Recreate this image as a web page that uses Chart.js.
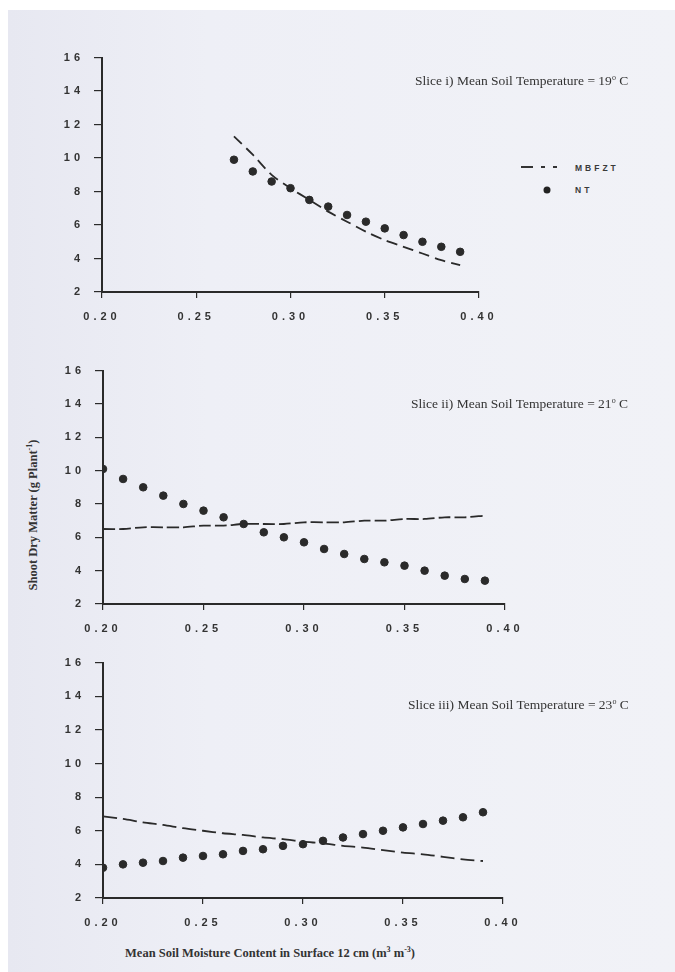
<!DOCTYPE html>
<html>
<head>
<meta charset="utf-8">
<script src="https://cdn.jsdelivr.net/npm/chart.js@4"></script>
<style>
  html, body { margin: 0; padding: 0; background: #fff; }
  #page {
    position: absolute; left: 8px; top: 10px; width: 667px; height: 962px;
    background: linear-gradient(90deg, #e7e8f1 0%, #eeeff6 30%, #f1f2f7 100%);
  }
  canvas { position: absolute; }
  .title {
    position: absolute; font-family: "Liberation Serif", serif; font-size: 13.5px;
    color: #333; white-space: nowrap; transform: translateY(-50%);
  }
  .axlabel {
    position: absolute; font-family: "Liberation Serif", serif; font-weight: bold;
    font-size: 12.5px; color: #333; white-space: nowrap;
    transform: translate(-50%, -50%);
  }
  .leg {
    position: absolute; font-family: "Liberation Sans", sans-serif; font-weight: bold;
    font-size: 8.5px; letter-spacing: 3px; color: #3a3a3a; transform: translateY(-50%);
    -webkit-font-smoothing: antialiased;
  }
</style>
</head>
<body>
<div id="page"></div>
<canvas id="c1"></canvas>
<canvas id="c2"></canvas>
<canvas id="c3"></canvas>

<div class="title" style="left:415px;top:81px">Slice i) Mean Soil Temperature = 19<sup style="font-size:8px">o</sup> C</div>
<div class="title" style="left:411px;top:404px">Slice ii) Mean Soil Temperature = 21<sup style="font-size:8px">o</sup> C</div>
<div class="title" style="left:408px;top:705px">Slice iii) Mean Soil Temperature = 23<sup style="font-size:8px">o</sup> C</div>

<svg style="position:absolute;left:521px;top:164px" width="50" height="6">
  <line x1="0" y1="3" x2="50" y2="3" stroke="#333" stroke-width="2" stroke-dasharray="12 8 4 8 4 14"/>
</svg>
<div class="leg" style="left:575px;top:168px">MBFZT</div>
<svg style="position:absolute;left:543px;top:186px" width="8" height="8">
  <circle cx="4" cy="4" r="3.5" fill="#222"/>
</svg>
<div class="leg" style="left:575px;top:190px">NT</div>

<div class="axlabel" style="left:33px;top:515px;transform:translate(-50%,-50%) rotate(-90deg)">Shoot Dry Matter (g Plant<sup style="font-size:8px">-1</sup>)</div>
<div class="axlabel" style="left:270px;top:953px">Mean Soil Moisture Content in Surface 12 cm (m<sup style="font-size:8px">3</sup> m<sup style="font-size:8px">-3</sup>)</div>

<script>
// soil moisture (m3 m-3)
const moisture = [0.20, 0.21, 0.22, 0.23, 0.24, 0.25, 0.26, 0.27, 0.28, 0.29,
                  0.30, 0.31, 0.32, 0.33, 0.34, 0.35, 0.36, 0.37, 0.38, 0.39];
const moisture19 = [0.27, 0.28, 0.29, 0.30, 0.31, 0.32, 0.33, 0.34, 0.35, 0.36, 0.37, 0.38, 0.39];

// slice i) 19 C
const mbfzt19 = [11.3, 10.2, 9.0, 8.2, 7.5, 6.8, 6.2, 5.6, 5.1, 4.7, 4.3, 3.9, 3.6];
const nt19 = [9.9, 9.2, 8.6, 8.2, 7.5, 7.1, 6.6, 6.2, 5.8, 5.4, 5.0, 4.7, 4.4];

// slice ii) 21 C
const mbfzt21 = [6.5, 6.5, 6.6, 6.6, 6.6, 6.7, 6.7, 6.8, 6.8, 6.8,
                 6.9, 6.9, 6.9, 7.0, 7.0, 7.1, 7.1, 7.2, 7.2, 7.3];
const nt21 = [10.1, 9.5, 9.0, 8.5, 8.0, 7.6, 7.2, 6.8, 6.3, 6.0,
              5.7, 5.3, 5.0, 4.7, 4.5, 4.3, 4.0, 3.7, 3.5, 3.4];

// slice iii) 23 C
const mbfzt23 = [6.85, 6.7, 6.5, 6.35, 6.15, 6.0, 5.85, 5.75, 5.6, 5.5,
                 5.35, 5.25, 5.1, 5.0, 4.85, 4.7, 4.6, 4.45, 4.3, 4.2];
const nt23 = [3.8, 4.0, 4.1, 4.2, 4.4, 4.5, 4.6, 4.8, 4.9, 5.1,
              5.2, 5.4, 5.6, 5.8, 6.0, 6.2, 6.4, 6.6, 6.8, 7.1];

const yTicks = [2, 4, 6, 8, 10, 12, 14, 16];
const xTicks = [0.20, 0.25, 0.30, 0.35, 0.40];

const INK = '#2a2a2a';
const PAD = { left: 62, right: 25, top: 10, bottom: 40 };

const spacing = {
  id: 'spacing',
  beforeDraw(chart) { chart.ctx.letterSpacing = '4px'; }
};

function pairs(xs, ys) {
  return xs.map((x, i) => ({ x: x, y: ys[i] }));
}

function panel(id, area, xs, line, dots, dash) {
  const cv = document.getElementById(id);
  const w = area.right - area.left + PAD.left + PAD.right;
  const h = area.bottom - area.top + PAD.top + PAD.bottom;
  cv.width = w; cv.height = h;
  cv.style.left = (area.left - PAD.left) + 'px';
  cv.style.top = (area.top - PAD.top) + 'px';

  const tickFont = { family: 'Liberation Sans', size: 11, weight: 'bold' };
  new Chart(cv, {
    type: 'scatter',
    data: {
      datasets: [{
        label: 'MBFZT',
        data: pairs(xs, line),
        showLine: true,
        borderColor: INK,
        borderWidth: 1.8,
        borderDash: dash,
        pointRadius: 0,
        tension: 0.3
      }, {
        label: 'NT',
        data: pairs(xs, dots),
        showLine: false,
        backgroundColor: INK,
        borderColor: INK,
        pointRadius: 3.8
      }]
    },
    plugins: [spacing],
    options: {
      responsive: false,
      animation: false,
      layout: { padding: { top: PAD.top, right: PAD.right, left: 0, bottom: 0 } },
      plugins: { legend: { display: false }, tooltip: { enabled: false } },
      scales: {
        x: {
          type: 'linear', min: 0.20, max: 0.40,
          afterBuildTicks: s => { s.ticks = xTicks.map(v => ({ value: v })); },
          afterFit: s => { s.height = PAD.bottom; },
          ticks: { color: '#333', font: tickFont, padding: 12,
                   callback: v => v.toFixed(2) },
          grid: { drawOnChartArea: false, tickLength: 6, color: INK, lineWidth: 1.2 },
          border: { color: INK, width: 2 }
        },
        y: {
          min: 2, max: 16,
          afterBuildTicks: s => { s.ticks = yTicks.map(v => ({ value: v })); },
          afterFit: s => { s.width = PAD.left; },
          ticks: { color: '#333', font: tickFont, padding: 10 },
          grid: { drawOnChartArea: false, tickLength: 8, color: INK, lineWidth: 1.2 },
          border: { color: INK, width: 2 }
        }
      }
    }
  });
}

panel('c1', { left: 102, right: 479, top: 51, bottom: 292 }, moisture19, mbfzt19, nt19, [11, 6]);
panel('c2', { left: 103, right: 505, top: 364, bottom: 604 }, moisture, mbfzt21, nt21, [12, 4]);
panel('c3', { left: 103, right: 503, top: 656, bottom: 898 }, moisture, mbfzt23, nt23, [14, 6]);
</script>
</body>
</html>
